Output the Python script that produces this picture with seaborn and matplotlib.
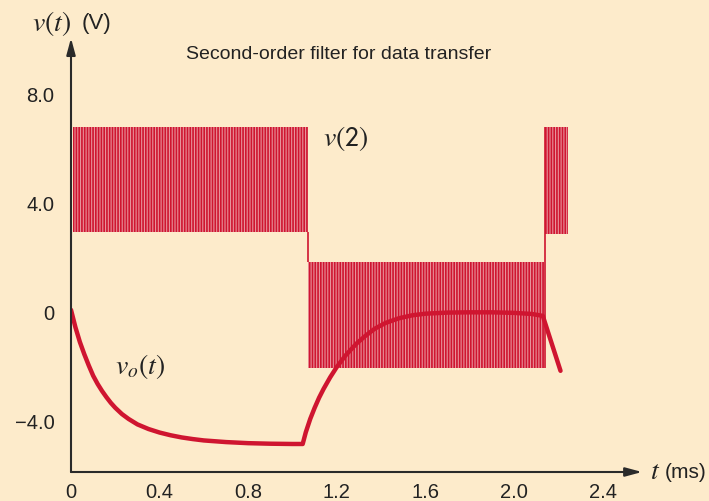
import numpy as np
import pandas as pd
import matplotlib
matplotlib.use("Agg")
import matplotlib.pyplot as plt
import seaborn as sns

# ---------------- data ----------------
# input signal v(2): bands of fast switching (start ms, end ms, high V, low V)
seg_start = [0.01, 1.071, 2.140]
seg_end = [1.071, 2.135, 2.245]
seg_high = [6.79, 1.81, 6.76]
seg_low = [2.93, -2.10, 2.84]

# filter output v_o(t)
vo_t = [0.0, 0.02, 0.04, 0.06, 0.08, 0.10, 0.12, 0.14, 0.16, 0.18, 0.20,
        0.23, 0.26, 0.30, 0.35, 0.40, 0.45, 0.50, 0.55, 0.60, 0.70, 0.80,
        0.90, 1.00, 1.046,
        1.06, 1.08, 1.10, 1.12, 1.14, 1.17, 1.20, 1.24, 1.29, 1.33, 1.37,
        1.42, 1.48, 1.54, 1.60, 1.70, 1.80, 1.90, 2.00, 2.08, 2.13, 2.21]
vo_v = [0.05, -0.59, -1.13, -1.58, -1.99, -2.37, -2.67, -2.93, -3.16, -3.37, -3.55,
        -3.78, -3.96, -4.16, -4.33, -4.46, -4.56, -4.64, -4.70, -4.75, -4.81, -4.85,
        -4.87, -4.88, -4.88,
        -4.45, -3.96, -3.55, -3.18, -2.86, -2.43, -2.05, -1.62, -1.18, -0.90, -0.65,
        -0.43, -0.26, -0.15, -0.09, -0.05, -0.04, -0.04, -0.06, -0.10, -0.17, -2.19]

x_ticks = [0, 0.4, 0.8, 1.2, 1.6, 2.0, 2.4]
x_labels = ["0", "0.4", "0.8", "1.2", "1.6", "2.0", "2.4"]
y_ticks = [-4, 0, 4, 8]
y_labels = ["\u22124.0", "0", "4.0", "8.0"]

title = "Second-order filter for data transfer"

# ---------------- style ----------------
BG = "#FDEBCB"
RED = "#CF1530"
AX = "#2a2a2a"

sns.set_style("white", {"axes.facecolor": BG, "figure.facecolor": BG})
plt.rcParams["font.family"] = ["Liberation Sans", "DejaVu Sans"]
plt.rcParams["mathtext.fontset"] = "stix"
plt.rcParams["hatch.linewidth"] = 1.2

fig = plt.figure(figsize=(7.09, 5.02), dpi=100)
ax = fig.add_axes([71 / 709, 29 / 502, 638 / 709, 473 / 502])
ax.set_facecolor(BG)

ax.set_xlim(0, 638 / 221.5)
ax.set_ylim(-5.91, 312.2 / 27.2)

# input signal bands
for s, e, hi, lo in zip(seg_start, seg_end, seg_high, seg_low):
    ax.fill_between([s, e], [lo, lo], [hi, hi], facecolor="#E8929B",
                    edgecolor=RED, hatch="|" * 6, linewidth=0, zorder=2)
for i in range(1, len(seg_start)):
    ax.vlines(seg_start[i], seg_low[i - 1], seg_high[i], color=RED, lw=1.2, zorder=2)

# output curve
df = pd.DataFrame({"t": vo_t, "v": vo_v})
sns.lineplot(data=df, x="t", y="v", ax=ax, color=RED, lw=3.2, sort=False,
             estimator=None, zorder=4)

# axes with arrows
for sp in ax.spines.values():
    sp.set_visible(False)
ax.annotate("", xy=(2.578, -5.91), xytext=(0, -5.91),
            arrowprops=dict(arrowstyle="-|>,head_length=1.0,head_width=0.27",
                            color=AX, lw=1.5, shrinkA=0, shrinkB=0),
            annotation_clip=False, zorder=5)
ax.annotate("", xy=(0, 10.04), xytext=(0, -5.91),
            arrowprops=dict(arrowstyle="-|>,head_length=1.0,head_width=0.27",
                            color=AX, lw=1.5, shrinkA=0, shrinkB=0),
            annotation_clip=False, zorder=5)

ax.set_xticks(x_ticks)
ax.set_xticklabels(x_labels)
ax.set_yticks(y_ticks)
ax.set_yticklabels(y_labels)
ax.tick_params(axis="x", length=0, pad=7, labelsize=14.5, labelcolor="#222222")
ax.tick_params(axis="y", length=0, pad=12, labelsize=14.5, labelcolor="#222222")
ax.set_xlabel("")
ax.set_ylabel("")
ax.grid(False)

# texts
ax.text(1.21, 9.46, title, ha="center", va="center", fontsize=14, color="#222222")
ax.text(1.138, 6.40, r"$v(\mathsf{2})$", ha="left", va="center", fontsize=20, color="#222222")
ax.text(0.199, -1.98, r"$v_o(t)$", ha="left", va="center", fontsize=20, color="#222222")
ax.text(-0.176, 10.63, r"$v(t)$", ha="left", va="center", fontsize=20, color="#222222",
        clip_on=False)
ax.text(0.05, 10.63, "(V)", ha="left", va="center", fontsize=16, color="#222222",
        clip_on=False)
ax.text(2.614, -5.88, r"$t$", ha="left", va="center", fontsize=20, color="#222222",
        clip_on=False)
ax.text(2.68, -5.88, "(ms)", ha="left", va="center", fontsize=15, color="#222222",
        clip_on=False)

fig.savefig("out.png", dpi=100, facecolor=BG)
